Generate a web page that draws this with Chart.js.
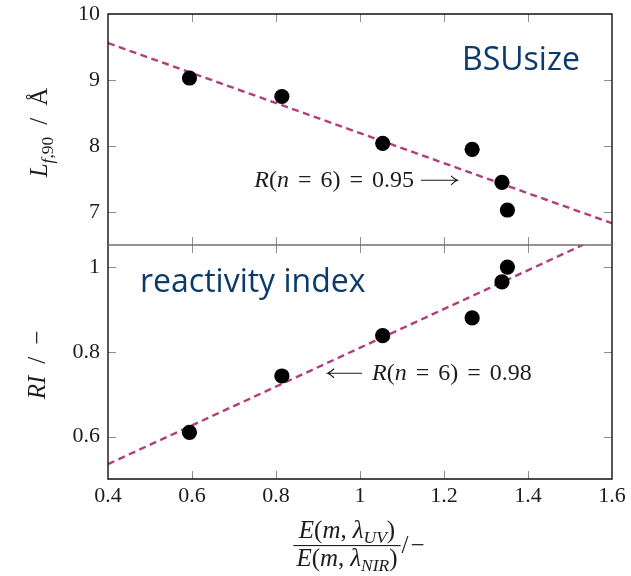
<!DOCTYPE html>
<html>
<head>
<meta charset="utf-8">
<script src="https://cdn.jsdelivr.net/npm/chart.js@4.4.1/dist/chart.umd.min.js"></script>
<style>
  html, body { margin: 0; padding: 0; background: #fff; }
  #wrap { position: relative; width: 631px; height: 576px; overflow: hidden; }
  #wrap canvas { position: absolute; left: 0; }
</style>
</head>
<body>
<div id="wrap">
  <canvas id="chart-bsu" width="631" height="246" style="top:0"></canvas>
  <canvas id="chart-ri" width="631" height="336" style="top:240px"></canvas>
</div>
<script>
// x: extinction ratio E(m, λUV) / E(m, λNIR)
const ratio = [0.594, 0.814, 1.054, 1.267, 1.338, 1.351];
// top panel: BSU size L_f,90 in Å
const bsuSize = [9.03, 8.75, 8.04, 7.95, 7.45, 7.03];
// bottom panel: reactivity index
const reactIdx = [0.61, 0.743, 0.838, 0.88, 0.965, 1.0];

// linear fits (end points across the x range)
const fitX = [0.4, 1.6];
const bsuFitY = [9.56, 6.83];
const riFitY = [0.535, 1.084];

const xTicks = [0.4, 0.6, 0.8, 1, 1.2, 1.4, 1.6];
const bsuTicks = [7, 8, 9, 10];
const riTicks = [0.6, 0.8, 1];

const SERIF = '"Liberation Serif", "DejaVu Serif", serif';
const FIT_COLOR = '#b23d7d';
const NAVY = '#0c3a6b';
const INK = '#1c1c1c';

function mathFont(size, italic) {
  return (italic ? 'italic ' : '') + size + 'px ' + SERIF;
}

// runs: [text, italic, sub] or a number for a fixed gap
function runsWidth(ctx, runs, size) {
  let w = 0;
  for (const r of runs) {
    if (typeof r === 'number') { w += r; continue; }
    ctx.font = mathFont(r[2] ? size * 0.7 : size, r[1]);
    w += ctx.measureText(r[0]).width;
  }
  return w;
}

function drawRuns(ctx, runs, x, y, size) {
  let cx = x;
  ctx.textAlign = 'left';
  ctx.textBaseline = 'alphabetic';
  for (const r of runs) {
    if (typeof r === 'number') { cx += r; continue; }
    const s = r[2] ? size * 0.7 : size;
    ctx.font = mathFont(s, r[1]);
    ctx.fillText(r[0], cx, y + (r[2] ? size * 0.22 : 0));
    cx += ctx.measureText(r[0]).width;
  }
  return cx;
}

function drawLongArrow(ctx, x0, x1, y, dir) {
  ctx.save();
  ctx.strokeStyle = INK;
  ctx.lineWidth = 1.1;
  ctx.beginPath();
  ctx.moveTo(x0, y);
  ctx.lineTo(x1, y);
  const tip = dir > 0 ? x1 : x0;
  ctx.moveTo(tip - dir * 6, y - 4.5);
  ctx.quadraticCurveTo(tip - dir * 2, y - 0.8, tip + dir * 0.5, y);
  ctx.quadraticCurveTo(tip - dir * 2, y + 0.8, tip - dir * 6, y + 4.5);
  ctx.stroke();
  ctx.restore();
}

const R_RUNS = (val) => [['R', true], ['(', false], ['n', true], 9, ['=', false], 9,
  ['6', false], [')', false], 9, ['=', false], 9, [val, false]];

// frame, inward tick marks, labels
const framePlugin = {
  id: 'frame',
  afterDraw(chart, args, o) {
    const ctx = chart.ctx;
    const { left, right, top, bottom } = chart.chartArea;
    const xs = chart.scales.x, ys = chart.scales.y;
    ctx.save();
    // tick marks pointing inward on all four sides
    ctx.strokeStyle = '#8c8c8c';
    ctx.lineWidth = 1;
    ctx.beginPath();
    xTicks.forEach(v => {
      const px = Math.round(xs.getPixelForValue(v)) + 0.5;
      if (px < left + 2 || px > right - 2) return;
      ctx.moveTo(px, top); ctx.lineTo(px, top + 8);
      ctx.moveTo(px, bottom); ctx.lineTo(px, bottom - 8);
    });
    o.yTicks.forEach(v => {
      const py = Math.round(ys.getPixelForValue(v)) + 0.5;
      if (py < top + 2 || py > bottom - 2) return;
      ctx.moveTo(left, py); ctx.lineTo(left + 8, py);
      ctx.moveTo(right, py); ctx.lineTo(right - 8, py);
    });
    ctx.stroke();

    // frame
    ctx.strokeStyle = '#111';
    ctx.lineWidth = 1.4;
    ctx.beginPath();
    if (o.divider === 'bottom') {
      ctx.moveTo(left, bottom); ctx.lineTo(left, top); ctx.lineTo(right, top); ctx.lineTo(right, bottom);
    } else {
      ctx.moveTo(left, top); ctx.lineTo(left, bottom); ctx.lineTo(right, bottom); ctx.lineTo(right, top);
    }
    ctx.stroke();
    if (o.divider === 'top') {
      ctx.strokeStyle = '#6f6f6f';
      ctx.lineWidth = 1.6;
      ctx.beginPath();
      ctx.moveTo(left, top); ctx.lineTo(right, top);
      ctx.stroke();
    }

    ctx.fillStyle = INK;
    o.draw(ctx, chart);
    ctx.restore();
  }
};

function noPad(s) {
  s.paddingTop = 0; s.paddingBottom = 0; s.paddingLeft = 0; s.paddingRight = 0;
}

function baseOptions(yMin, yMax, yTickList, frameOpts, padding, showX) {
  return {
    responsive: false,
    animation: false,
    devicePixelRatio: 1,
    layout: { padding, autoPadding: false },
    plugins: { legend: { display: false }, tooltip: { enabled: false }, frame: frameOpts },
    scales: {
      x: {
        type: 'linear', min: 0.4, max: 1.6, display: showX,
        grid: { display: false, drawTicks: false },
        border: { display: false },
        afterBuildTicks: s => { s.ticks = xTicks.map(v => ({ value: v })); },
        afterFit: s => { if (showX) s.height = 97; noPad(s); },
        ticks: {
          padding: 4, color: INK, maxRotation: 0, autoSkip: false,
          font: { family: SERIF, size: 22 },
          callback: v => String(Math.round(v * 10) / 10)
        }
      },
      y: {
        type: 'linear', min: yMin, max: yMax,
        grid: { display: false, drawTicks: false },
        border: { display: false },
        afterBuildTicks: s => { s.ticks = yTickList.map(v => ({ value: v })); },
        afterFit: s => { s.width = 108; noPad(s); },
        ticks: {
          padding: 8, color: INK,
          font: { family: SERIF, size: 22 },
          callback: v => String(v)
        }
      }
    }
  };
}

function datasets(yVals, fitY) {
  return [
    {
      data: ratio.map((x, i) => ({ x, y: yVals[i] })),
      pointRadius: 7.6, pointBackgroundColor: '#000', pointBorderWidth: 0, showLine: false
    },
    {
      data: fitX.map((x, i) => ({ x, y: fitY[i] })),
      showLine: true, pointRadius: 0, borderColor: FIT_COLOR, borderWidth: 2.4,
      borderDash: [7, 4.5], fill: false
    }
  ];
}

// top panel: BSU size
new Chart(document.getElementById('chart-bsu'), {
  type: 'scatter',
  data: { datasets: datasets(bsuSize, bsuFitY) },
  plugins: [framePlugin],
  options: baseOptions(6.5, 10, bsuTicks, {
    yTicks: bsuTicks,
    divider: 'bottom',
    draw(ctx, chart) {
      const { top, bottom } = chart.chartArea;
      const xs = chart.scales.x, ys = chart.scales.y;
      // y axis title, rotated
      const runs = [['L', true], ['f', true, true], [',90', false, true], 12, ['/', false], 12, ['Å', false]];
      const w = runsWidth(ctx, runs, 25);
      ctx.save();
      ctx.translate(47, (top + bottom) / 2 + 3);
      ctx.rotate(-Math.PI / 2);
      drawRuns(ctx, runs, -w / 2, 0, 25);
      ctx.restore();

      // correlation note, arrow tip near the fit line
      const rr = R_RUNS('0.95');
      const tipX = xs.getPixelForValue(1.231);
      const baseY = ys.getPixelForValue(7.374);
      const arrowLen = 36;
      const tw = runsWidth(ctx, rr, 24);
      const startX = tipX - arrowLen - 7 - tw;
      drawRuns(ctx, rr, startX, baseY, 24);
      drawLongArrow(ctx, tipX - arrowLen, tipX, baseY - 7, 1);

      ctx.fillStyle = NAVY;
      ctx.font = '32px "Open Sans", sans-serif';
      ctx.textAlign = 'left';
      ctx.textBaseline = 'alphabetic';
      ctx.fillText('BSUsize', 462, 70);
    }
  }, { top: 14, right: 19, bottom: 1, left: 0 }, false)
});

// bottom panel: reactivity index
new Chart(document.getElementById('chart-ri'), {
  type: 'scatter',
  data: { datasets: datasets(reactIdx, riFitY) },
  plugins: [framePlugin],
  options: baseOptions(0.5, 1.052, riTicks, {
    yTicks: riTicks,
    divider: 'top',
    draw(ctx, chart) {
      const { left, right, top, bottom } = chart.chartArea;
      const xs = chart.scales.x, ys = chart.scales.y;
      // y axis title, rotated
      const runs = [['R', true], ['I', true], 12, ['/', false], 12, ['−', false]];
      const w = runsWidth(ctx, runs, 25);
      ctx.save();
      ctx.translate(45, (top + bottom) / 2 + 3);
      ctx.rotate(-Math.PI / 2);
      drawRuns(ctx, runs, -w / 2, 0, 25);
      ctx.restore();

      // correlation note with arrow pointing back to the fit line
      const x0 = xs.getPixelForValue(0.924);
      const baseY = ys.getPixelForValue(0.733);
      drawLongArrow(ctx, x0, x0 + 34, baseY - 7, -1);
      drawRuns(ctx, R_RUNS('0.98'), x0 + 44, baseY, 24);

      // x axis title: E(m, λUV) / E(m, λNIR) /−
      const num = [['E', true], ['(', false], ['m', true], [',', false], 6, ['λ', true], ['UV', true, true], [')', false]];
      const den = [['E', true], ['(', false], ['m', true], [',', false], 6, ['λ', true], ['NIR', true, true], [')', false]];
      const fs = 25;
      const nw = runsWidth(ctx, num, fs), dw = runsWidth(ctx, den, fs);
      const fw = Math.max(nw, dw) + 6;
      const cx = (left + right) / 2 - 13;
      const barY = bottom + 66.5;
      drawRuns(ctx, num, cx - nw / 2, barY - 8, fs);
      drawRuns(ctx, den, cx - dw / 2, barY + 20, fs);
      ctx.fillRect(cx - fw / 2, barY - 0.5, fw, 1.1);
      drawRuns(ctx, [['/', false], 2, ['−', false]], cx + fw / 2 + 1, barY + 7, fs);

      ctx.fillStyle = NAVY;
      ctx.font = '32px "Open Sans", sans-serif';
      ctx.textAlign = 'left';
      ctx.textBaseline = 'alphabetic';
      ctx.fillText('reactivity index', 140, 292 - 240);
    }
  }, { top: 5, right: 19, bottom: 0, left: 0 }, true)
});
</script>
</body>
</html>
